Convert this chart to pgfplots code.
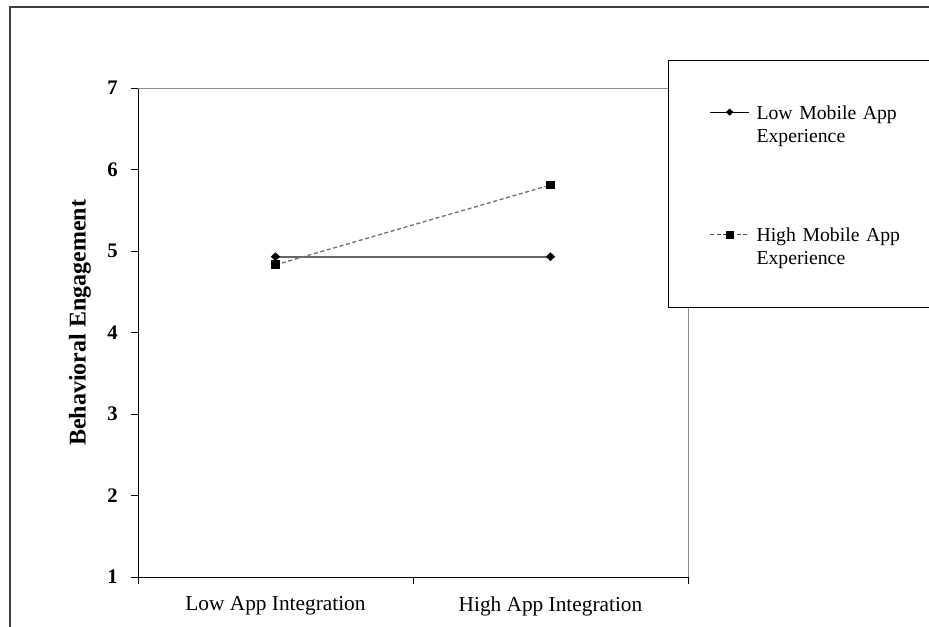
\documentclass[border=0pt]{standalone}
\usepackage{pgfplots}
\pgfplotsset{compat=1.18}
\usepackage{fontspec}
\setmainfont{Liberation Serif}
\begin{document}
\begin{tikzpicture}
\path[use as bounding box] (0,0) rectangle (696.75pt,469.5pt);
\draw[line width=0.8pt, black!75] (7.5pt,-2pt) -- (7.5pt,464.25pt) -- (700pt,464.25pt);
\begin{axis}[
  at={(103.5pt,36.75pt)}, anchor=south west,
  scale only axis, width=412.5pt, height=366.75pt,
  clip=false,
  xmin=0, xmax=2, ymin=1, ymax=7,
  xtick={0,1,2}, xticklabels={},
  ytick={1,2,3,4,5,6,7},
  /pgf/number format/assume math mode=true,
  extra x ticks={0.5,1.5},
  extra x tick labels={Low App Integration,High App Integration},
  extra x tick style={major tick length=0pt, xticklabel style={yshift=-11.25pt}},
  tick align=outside, major tick length=5.25pt,
  tick style={black, line width=0.6pt},
  axis x line*=bottom, axis y line*=left,
  axis line style={-, black, line width=0.75pt},
  xticklabel style={font=\fontsize{16}{18}\selectfont},
  yticklabel style={font=\fontsize{15.5}{18}\selectfont\bfseries, xshift=-6.5pt},
  ylabel={Behavioral Engagement},
  ylabel style={at={(axis description cs:-0.1055,0.52)}, anchor=center, font=\fontsize{18}{20}\selectfont\bfseries},
  legend style={at={(rel axis cs:0.9636,1.0573)}, anchor=north west, draw=none, fill=none,
    inner xsep=0pt, inner ysep=33pt, row sep=79.5pt, column sep=5.25pt,
    nodes={inner sep=0pt, anchor=north west, text width=160pt, align=left,
      font=\fontsize{14.8}{17.25}\selectfont}},
  legend cell align=left,
]
\draw[black!45, line width=0.6pt] (rel axis cs:0,1) -- (rel axis cs:1,1) -- (rel axis cs:1,0);
\draw[black, line width=0.6pt, fill=white] (rel axis cs:0.9636,1.0573) rectangle (rel axis cs:1.6,0.5521);
\addplot[color=black!60, line width=1.3pt, mark=diamond*, mark size=2.4pt,
  mark options={solid, fill=black, draw=black, xscale=1.4},
  legend image code/.code={\path (0pt,0pt);
    \draw[black, line width=0.6pt] (30.75pt,-5.25pt) -- (60pt,-5.25pt);
    \draw[mark=diamond*, mark size=1.8pt, mark options={fill=black,draw=black,xscale=1.4}] plot coordinates {(45.4pt,-5.25pt)};}
] coordinates {(0.5,4.93) (1.5,4.93)};
\addlegendentry{Low Mobile App\\Experience}
\addplot[color=black!55, densely dashed, line width=1pt, mark=square*, mark size=2.8pt,
  mark options={solid, fill=black, draw=black},
  legend image code/.code={\path (0pt,0pt);
    \draw[black!70, densely dashed, line width=0.6pt] (30.75pt,-5.25pt) -- (60pt,-5.25pt);
    \draw[mark=square*, mark size=2.4pt, mark options={solid,fill=black,draw=black}] plot coordinates {(45.4pt,-5.25pt)};}
] coordinates {(0.5,4.83) (1.5,5.81)};
\addlegendentry{High Mobile App\\Experience}
\end{axis}
\end{tikzpicture}
\end{document}
